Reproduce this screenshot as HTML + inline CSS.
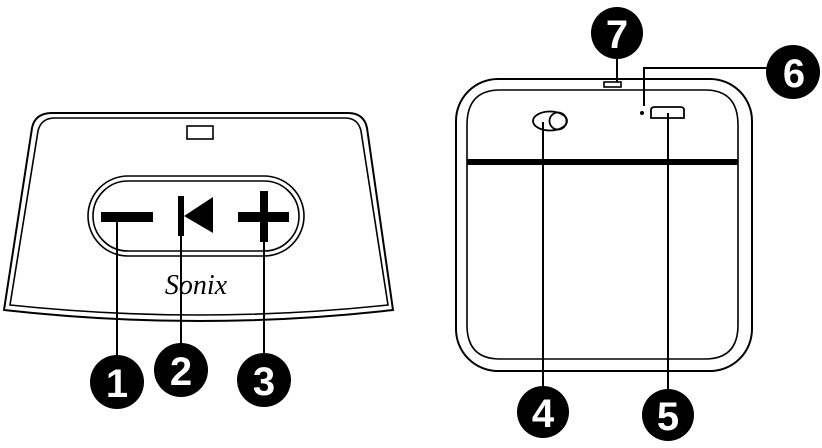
<!DOCTYPE html>
<html><head><meta charset="utf-8"><style>
html,body{margin:0;padding:0;background:#fff;}
svg{display:block;}
text{font-family:"Liberation Sans",Arial,sans-serif;}
</style></head><body>
<svg width="822" height="448" viewBox="0 0 822 448" xmlns="http://www.w3.org/2000/svg">
<g fill="none" stroke="#000" stroke-width="2">
  <path d="M52,113 L348,113 Q364,113 367,128 L393,310 Q200,332 4,310 L32,128 Q35,113 52,113 Z"/>
  <path d="M55,118 L345,118 Q358,118 361,131 L388,305 Q200,325 10,305 L38,131 Q41,118 55,118 Z" stroke-width="1.6"/>
  <rect x="187" y="126" width="26" height="13" stroke-width="1.6"/>
  <rect x="88" y="176" width="216" height="80" rx="40" stroke-width="1.6"/>
  <rect x="93" y="181" width="206" height="70" rx="35" stroke-width="1.6"/>
</g>
<g fill="#000">
  <rect x="101" y="212" width="52" height="10"/>
  <rect x="178" y="196" width="6" height="40"/>
  <polygon points="184,216 213,197 213,233"/>
  <rect x="238" y="212" width="51" height="10"/>
  <rect x="260" y="191" width="8" height="51"/>
</g>
<text x="196" y="294" font-size="28" font-style="italic" text-anchor="middle" style="font-family:'Liberation Serif',serif">Sonix</text>
<g stroke="#000" stroke-width="2">
  <line x1="117" y1="222" x2="117" y2="360"/>
  <line x1="181" y1="236" x2="181" y2="350"/>
  <line x1="264" y1="242" x2="264" y2="360"/>
</g>
<g fill="none" stroke="#000" stroke-width="2">
  <rect x="456" y="79" width="296" height="292" rx="42"/>
  <path d="M500,90 L705,90 Q738,90 738,125 L738,325 Q738,359 705,359 L500,359 Q467,359 467,325 L467,125 Q467,90 500,90 Z" stroke-width="1.6"/>
  <ellipse cx="550" cy="121" rx="17" ry="9.5" stroke-width="1.8"/>
  <circle cx="558" cy="121" r="8.5" stroke-width="1.8"/>
  <path d="M651,118 L651,110 Q651,107 655,107 L680,107 Q684,107 684,110 L684,118 Z" stroke-width="1.8"/>
  <rect x="604" y="82" width="17" height="5" fill="#fff" stroke-width="1.6"/>
</g>
<rect x="467" y="159" width="271" height="6" fill="#000"/>
<circle cx="642" cy="113" r="2" fill="#000"/>
<g stroke="#000" stroke-width="2" fill="none">
  <line x1="617" y1="55" x2="617" y2="82"/>
  <polyline points="644,106 644,68 775,68"/>
  <line x1="543" y1="122" x2="543" y2="390"/>
  <line x1="668" y1="113" x2="668" y2="392"/>
</g>
<g fill="#000">
  <circle cx="117" cy="382" r="27"/>
  <circle cx="181" cy="370" r="27"/>
  <circle cx="264" cy="380" r="27"/>
  <circle cx="543" cy="412" r="26"/>
  <circle cx="668" cy="415" r="26"/>
  <circle cx="793" cy="72" r="27"/>
  <circle cx="617" cy="33" r="26"/>
</g>
<g fill="#fff" font-size="40" font-weight="bold" text-anchor="middle">
  <text x="117" y="397">1</text>
  <text x="181" y="385">2</text>
  <text x="264" y="395">3</text>
  <text x="543" y="427">4</text>
  <text x="668" y="430">5</text>
  <text x="794" y="87">6</text>
  <text x="617" y="48">7</text>
</g>
</svg>
</body></html>
